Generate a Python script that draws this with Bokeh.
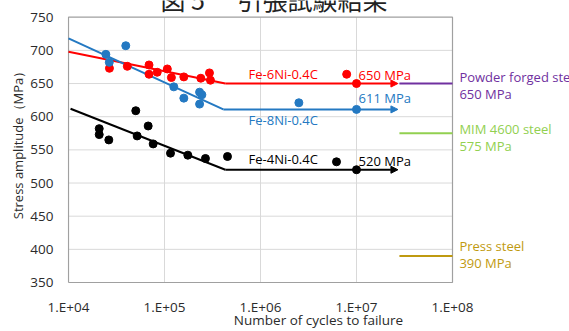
from bokeh.plotting import figure
from bokeh.models import FixedTicker, Arrow, NormalHead, Label
from bokeh.embed import file_html
from bokeh.resources import INLINE

# ---- data ----
x_ticks = [1e4, 1e5, 1e6, 1e7, 1e8]
x_tick_labels = ["1.E+04", "1.E+05", "1.E+06", "1.E+07", "1.E+08"]
y_ticks = [350, 400, 450, 500, 550, 600, 650, 700, 750]

red_n = [2.67e4, 4.1e4, 6.9e4, 6.9e4, 8.4e4, 1.07e5, 1.18e5, 1.59e5, 2.39e5, 2.94e5, 3.01e5, 7.9e6, 1.0e7]
red_s = [673, 676, 678, 664, 667, 672, 659, 660, 658, 666, 655, 664, 650]

blue_n = [2.45e4, 2.66e4, 3.95e4, 1.25e5, 1.59e5, 2.32e5, 2.45e5, 2.32e5, 2.51e6, 1.0e7]
blue_s = [694, 682, 707, 645, 628, 637, 633, 619, 621, 611]

black_n = [2.09e4, 2.09e4, 2.63e4, 5.02e4, 6.76e4, 5.19e4, 7.62e4, 1.155e5, 1.75e5, 2.67e5, 4.53e5, 6.19e6, 1.0e7]
black_s = [582, 573, 565, 609, 586, 571, 559, 545, 542, 537, 540, 532, 520]

# fitted S-N lines: sloped part [start, knee], then a flat arrow to arrow_end_n
red_fit_n = [1e4, 4.3e5]
red_fit_s = [698, 650]
blue_fit_n = [1e4, 4.1e5]
blue_fit_s = [718, 611]
black_fit_n = [1.05e4, 4.3e5]
black_fit_s = [612, 520]
arrow_end_n = 2.7e7

series_names = ["Fe-6Ni-0.4C", "Fe-8Ni-0.4C", "Fe-4Ni-0.4C"]
limit_labels = ["650 MPa", "611 MPa", "520 MPa"]

ref_names = ["Powder forged steel", "MIM 4600 steel", "Press steel"]
ref_values = [650, 575, 390]
ref_value_labels = ["650 MPa", "575 MPa", "390 MPa"]
ref_start_n = 2.8e7

title_parts = ["図 5", "引張試験結果"]

RED = "#FF0000"
BLUE = "#2479C2"
BLACK = "#000000"
PURPLE = "#7030A0"
GREEN = "#92D050"
GOLD = "#BF9A10"
FONT = "Open Sans"
TXT = "#2B2B2B"
GRID = "#D9D9D9"
BORDER = "#A0A0A0"

# ---- layout (pixels) ----
W, H = 569, 331
FRAME_L, FRAME_T, FRAME_B = 68, 17, 287   # visible plot box edges
DEC_PX = 96.0                              # px per decade
MPA_PX = 270.0 / 400.0                     # px per MPa

x0 = 10 ** (4 - 1 / DEC_PX)
x1 = 10 ** (4 + (W - FRAME_L) / DEC_PX)
y0 = 350 - 1 / MPA_PX
y1 = 750 + FRAME_T / MPA_PX

p = figure(width=W, height=H, x_axis_type="log", x_range=(x0, x1), y_range=(y0, y1),
           output_backend="svg", toolbar_location=None,
           min_border_left=FRAME_L - 1, min_border_right=0, min_border_top=0,
           min_border_bottom=H - (FRAME_B + 1))
p.outline_line_color = None
p.grid.visible = False

p.xaxis.ticker = FixedTicker(ticks=x_ticks)
p.xaxis.major_label_overrides = {float(t): l for t, l in zip(x_ticks, x_tick_labels)}
p.yaxis.ticker = FixedTicker(ticks=y_ticks)
for ax in (p.xaxis, p.yaxis):
    ax.major_tick_line_color = None
    ax.minor_tick_line_color = None
    ax.major_tick_in = 0
    ax.major_tick_out = 0
    ax.axis_line_color = None
    ax.major_label_text_font = FONT
    ax.major_label_text_font_size = "13.5px"
    ax.major_label_text_color = TXT
    ax.axis_label_text_font = FONT
    ax.axis_label_text_font_style = "normal"
    ax.axis_label_text_color = TXT

# x axis: bounds widened to the left so that the title centres where the source has it
p.xaxis.bounds = (10 ** (4 - 28 / DEC_PX), 1e8)
p.xaxis.major_label_standoff = 14
p.xaxis.axis_label = "Number of cycles to failure"
p.xaxis.axis_label_text_font_size = "13.5px"
p.xaxis.axis_label_standoff = -8

p.yaxis.bounds = (350 - 9 / MPA_PX, 750)
p.yaxis.major_label_standoff = 14
p.yaxis.axis_label = "Stress amplitude（MPa）"
p.yaxis.axis_label_text_font_size = "13px"
p.yaxis.axis_label_standoff = 0

# grid lines and plot box, limited to 1e4..1e8 / 350..750
gx = [[t, t] for t in x_ticks[1:-1]] + [[x_ticks[0], x_ticks[-1]] for _ in y_ticks[1:-1]]
gy = [[y_ticks[0], y_ticks[-1]] for _ in x_ticks[1:-1]] + [[v, v] for v in y_ticks[1:-1]]
p.multi_line(gx, gy, line_color=GRID, line_width=1)
bx = [x_ticks[0], x_ticks[-1], x_ticks[-1], x_ticks[0], x_ticks[0]]
by = [y_ticks[0], y_ticks[0], y_ticks[-1], y_ticks[-1], y_ticks[0]]
p.line(bx, by, line_color=BORDER, line_width=1.2)

# fit lines and arrows
for fn, fs, c in [(red_fit_n, red_fit_s, RED), (blue_fit_n, blue_fit_s, BLUE), (black_fit_n, black_fit_s, BLACK)]:
    p.line(fn, fs, line_width=2, color=c)
    p.add_layout(Arrow(end=NormalHead(size=7, fill_color=c, line_color=c),
                       x_start=fn[-1], y_start=fs[-1], x_end=arrow_end_n, y_end=fs[-1],
                       line_color=c, line_width=2))

# points
for n, s, c in [(red_n, red_s, RED), (blue_n, blue_s, BLUE), (black_n, black_s, BLACK)]:
    p.scatter(n, s, marker="circle", size=8, color=c)

# reference steel lines
for v, c in zip(ref_values, [PURPLE, GREEN, GOLD]):
    p.line([ref_start_n, x_ticks[-1]], [v, v], line_width=2, color=c)

def lab(x, y, t, c, size="13px", align="left", baseline="middle", font=FONT):
    p.add_layout(Label(x=x, y=y, text=t, text_color=c, text_font=font, text_font_size=size,
                       text_align=align, text_baseline=baseline))

# series labels
lab(7.5e5, 664, series_names[0], RED)
lab(7.5e5, 595, series_names[1], BLUE)
lab(7.5e5, 536.5, series_names[2], BLACK)
lab(1.05e7, 663, limit_labels[0], RED)
lab(1.05e7, 628, limit_labels[1], BLUE)
lab(1.05e7, 533, limit_labels[2], BLACK)

# reference labels (right of the plot box)
xr = 1.18e8
lab(xr, 660, ref_names[0], PURPLE)
lab(xr, 634.5, ref_value_labels[0], PURPLE)
lab(xr, 581, ref_names[1], GREEN)
lab(xr, 556.5, ref_value_labels[1], GREEN)
lab(xr, 404.5, ref_names[2], GOLD)
lab(xr, 380, ref_value_labels[2], GOLD)

# figure title (cut off at the top, as in the source)
lab(9.085e4, 777.4, title_parts[0], "#222222", size="25px", baseline="alphabetic", font="Noto Sans CJK JP")
lab(5.76e5, 777.4, title_parts[1], "#222222", size="25px", baseline="alphabetic", font="Noto Sans CJK JP")

open("out.html", "w").write(file_html(p, INLINE))
